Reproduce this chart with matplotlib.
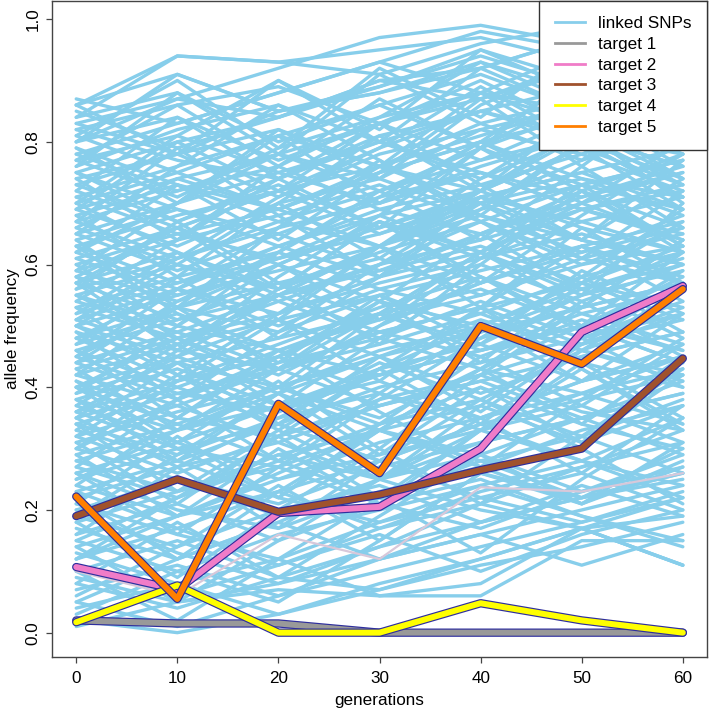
import numpy as np
import matplotlib.pyplot as plt

plt.rcParams['font.family'] = ['Liberation Sans', 'DejaVu Sans']

# sampled generations
generations = [0, 10, 20, 30, 40, 50, 60]

# linked SNP trajectories (one row per SNP)
snp_freqs = [
    [.87, .83, .88, .93, .98, .95, .91],
    [.86, .94, .93, .91, .96, .99, .96],
    [.86, .91, .85, .89, .94, .89, .86],
    [.86, .78, .90, .82, .95, .88, .97],
    [.85, .79, .84, .90, .87, .93, .95],
    [.84, .88, .80, .86, .79, .85, .91],
    [.84, .94, .93, .95, .97, .93, .90],
    [.83, .78, .85, .88, .93, .88, .84],
    [.83, .87, .92, .97, .99, .96, .93],
    [.82, .77, .74, .81, .85, .81, .78],
    [.82, .86, .89, .83, .88, .95, .90],
    [.81, .75, .81, .76, .72, .79, .83],
    [.81, .90, .79, .92, .84, .96, .88],
    [.80, .84, .77, .83, .87, .92, .95],
    [.80, .87, .84, .90, .92, .97, .96],
    [.80, .91, .85, .88, .92, .97, .94],
    [.79, .73, .69, .75, .80, .74, .71],
    [.79, .70, .82, .74, .86, .93, .82],
    [.78, .83, .88, .93, .88, .85, .90],
    [.78, .72, .78, .83, .77, .84, .88],
    [.77, .81, .75, .70, .76, .81, .76],
    [.77, .71, .79, .84, .88, .83, .79],
    [.77, .86, .76, .84, .93, .86, .78],
    [.76, .82, .86, .80, .85, .89, .93],
    [.76, .88, .78, .91, .83, .77, .88],
    [.75, .69, .65, .71, .75, .69, .64],
    [.75, .80, .84, .89, .95, .90, .86],
    [.75, .67, .73, .66, .72, .79, .73],
    [.74, .78, .71, .78, .82, .86, .79],
    [.74, .64, .76, .87, .79, .92, .84],
    [.73, .67, .74, .80, .75, .71, .76],
    [.73, .78, .82, .76, .83, .87, .82],
    [.72, .66, .72, .65, .71, .75, .79],
    [.72, .84, .74, .66, .79, .88, .80],
    [.71, .76, .81, .86, .91, .85, .90],
    [.71, .65, .61, .68, .62, .69, .72],
    [.70, .75, .69, .75, .80, .84, .89],
    [.70, .62, .55, .60, .67, .60, .66],
    [.70, .81, .90, .80, .92, .85, .76],
    [.69, .63, .70, .74, .68, .64, .60],
    [.69, .74, .78, .72, .79, .73, .69],
    [.69, .80, .72, .83, .90, .82, .74],
    [.68, .73, .67, .63, .69, .73, .77],
    [.68, .58, .70, .81, .72, .85, .92],
    [.67, .61, .67, .72, .77, .81, .76],
    [.67, .72, .76, .69, .65, .71, .75],
    [.67, .79, .68, .58, .71, .64, .77],
    [.66, .60, .56, .62, .67, .61, .57],
    [.66, .74, .69, .76, .70, .77, .82],
    [.65, .70, .75, .80, .74, .81, .85],
    [.65, .59, .65, .59, .65, .70, .64],
    [.65, .76, .86, .77, .68, .80, .71],
    [.64, .69, .63, .69, .73, .78, .72],
    [.64, .53, .66, .76, .88, .79, .69],
    [.63, .57, .63, .68, .72, .66, .62],
    [.63, .68, .72, .76, .81, .86, .81],
    [.63, .52, .44, .55, .47, .59, .52],
    [.62, .56, .52, .58, .62, .56, .61],
    [.62, .70, .78, .74, .82, .78, .84],
    [.62, .73, .64, .75, .87, .76, .88],
    [.61, .66, .60, .67, .61, .67, .71],
    [.61, .55, .61, .65, .70, .74, .68],
    [.60, .65, .69, .63, .70, .64, .60],
    [.60, .50, .62, .72, .64, .76, .66],
    [.59, .54, .60, .54, .50, .56, .60],
    [.59, .64, .68, .73, .67, .73, .77],
    [.59, .70, .81, .70, .80, .91, .82],
    [.58, .53, .49, .55, .59, .63, .57],
    [.58, .66, .72, .79, .85, .80, .74],
    [.58, .48, .40, .52, .62, .55, .70],
    [.57, .62, .56, .63, .68, .62, .68],
    [.57, .51, .57, .61, .55, .61, .65],
    [.57, .46, .58, .68, .79, .70, .80],
    [.57, .66, .56, .67, .58, .50, .62],
    [.56, .61, .66, .70, .75, .69, .65],
    [.56, .67, .57, .47, .60, .72, .63],
    [.55, .50, .46, .52, .56, .50, .46],
    [.55, .60, .54, .60, .64, .69, .73],
    [.55, .47, .55, .63, .71, .67, .62],
    [.54, .49, .55, .59, .63, .57, .63],
    [.54, .64, .74, .83, .73, .64, .74],
    [.53, .58, .62, .56, .52, .58, .62],
    [.53, .48, .54, .48, .54, .48, .54],
    [.53, .42, .52, .63, .74, .84, .74],
    [.52, .57, .61, .66, .71, .75, .69],
    [.52, .62, .51, .63, .53, .66, .57],
    [.51, .46, .43, .49, .53, .57, .51],
    [.51, .56, .50, .56, .60, .54, .60],
    [.51, .61, .71, .79, .89, .80, .86],
    [.50, .45, .51, .55, .49, .55, .59],
    [.50, .55, .59, .63, .57, .63, .67],
    [.50, .42, .36, .44, .38, .46, .52],
    [.50, .60, .70, .61, .72, .82, .70],
    [.49, .44, .40, .46, .50, .44, .40],
    [.49, .38, .49, .60, .70, .61, .72],
    [.48, .53, .57, .51, .57, .62, .66],
    [.48, .41, .47, .53, .58, .52, .47],
    [.48, .56, .63, .58, .65, .72, .78],
    [.47, .52, .46, .42, .48, .53, .57],
    [.47, .58, .48, .58, .69, .80, .71],
    [.46, .40, .46, .51, .55, .60, .63],
    [.46, .51, .55, .49, .45, .51, .46],
    [.46, .35, .45, .54, .44, .57, .67],
    [.45, .39, .36, .42, .46, .50, .44],
    [.45, .53, .60, .67, .62, .70, .75],
    [.45, .56, .66, .77, .67, .58, .69],
    [.44, .49, .43, .49, .53, .47, .53],
    [.44, .38, .44, .48, .43, .39, .45],
    [.44, .54, .62, .71, .80, .72, .66],
    [.43, .48, .52, .57, .61, .65, .60],
    [.43, .33, .43, .54, .65, .56, .48],
    [.42, .37, .43, .37, .42, .47, .51],
    [.42, .47, .51, .45, .51, .46, .41],
    [.42, .53, .43, .52, .62, .73, .63],
    [.41, .35, .32, .38, .42, .36, .33],
    [.41, .31, .41, .30, .42, .53, .64],
    [.40, .45, .39, .45, .49, .53, .57],
    [.40, .34, .40, .45, .39, .45, .49],
    [.40, .48, .42, .50, .57, .63, .58],
    [.40, .30, .22, .34, .45, .37, .47],
    [.39, .44, .48, .52, .46, .52, .56],
    [.39, .50, .60, .51, .62, .53, .64],
    [.38, .33, .39, .33, .29, .35, .39],
    [.38, .43, .37, .43, .47, .41, .47],
    [.38, .28, .39, .50, .61, .72, .62],
    [.37, .31, .37, .42, .46, .50, .44],
    [.37, .47, .37, .48, .58, .49, .59],
    [.36, .41, .45, .39, .35, .41, .45],
    [.36, .30, .27, .33, .37, .31, .37],
    [.36, .45, .55, .63, .72, .81, .73],
    [.35, .40, .34, .40, .44, .48, .52],
    [.35, .27, .35, .43, .50, .57, .53],
    [.35, .46, .56, .67, .57, .68, .78],
    [.34, .29, .35, .39, .33, .39, .34],
    [.34, .39, .43, .47, .52, .46, .42],
    [.34, .23, .33, .43, .53, .43, .33],
    [.33, .28, .34, .28, .34, .38, .42],
    [.33, .44, .34, .45, .36, .47, .57],
    [.32, .37, .31, .37, .41, .35, .41],
    [.32, .26, .32, .37, .41, .45, .49],
    [.32, .42, .33, .25, .37, .48, .40],
    [.31, .36, .40, .34, .40, .34, .30],
    [.31, .21, .32, .43, .34, .46, .56],
    [.30, .25, .21, .27, .31, .35, .29],
    [.30, .38, .45, .52, .47, .55, .62],
    [.30, .41, .51, .41, .53, .63, .54],
    [.29, .34, .28, .34, .38, .32, .38],
    [.29, .19, .30, .21, .33, .44, .35],
    [.28, .23, .29, .33, .27, .33, .37],
    [.28, .33, .37, .41, .35, .41, .45],
    [.27, .22, .28, .22, .28, .32, .26],
    [.27, .38, .28, .39, .50, .41, .52],
    [.26, .31, .25, .31, .35, .39, .43],
    [.26, .20, .17, .23, .27, .21, .27],
    [.26, .16, .27, .38, .48, .58, .49],
    [.25, .30, .34, .28, .34, .28, .24],
    [.25, .33, .40, .35, .43, .50, .58],
    [.24, .19, .25, .29, .33, .37, .31],
    [.24, .35, .46, .36, .27, .38, .48],
    [.23, .28, .22, .18, .24, .28, .22],
    [.23, .17, .23, .28, .22, .18, .23],
    [.22, .27, .31, .25, .31, .35, .39],
    [.22, .12, .23, .33, .43, .34, .45],
    [.21, .16, .12, .18, .22, .26, .20],
    [.21, .32, .22, .33, .43, .54, .45],
    [.20, .25, .19, .25, .29, .23, .29],
    [.20, .13, .08, .14, .21, .27, .33],
    [.19, .14, .20, .24, .18, .24, .19],
    [.19, .29, .39, .29, .40, .31, .42],
    [.18, .23, .27, .21, .17, .23, .27],
    [.18, .09, .20, .30, .21, .32, .43],
    [.17, .12, .18, .12, .18, .22, .26],
    [.16, .21, .15, .21, .25, .19, .15],
    [.16, .27, .17, .28, .38, .30, .21],
    [.15, .10, .16, .20, .24, .19, .14],
    [.15, .22, .29, .25, .33, .28, .35],
    [.14, .19, .23, .17, .23, .27, .31],
    [.14, .05, .15, .25, .35, .26, .37],
    [.13, .08, .12, .06, .06, .15, .15],
    [.12, .17, .11, .17, .21, .17, .11],
    [.12, .19, .26, .33, .28, .22, .30],
    [.12, .22, .32, .22, .33, .43, .34],
    [.11, .06, .11, .16, .10, .16, .20],
    [.10, .15, .09, .07, .12, .17, .22],
    [.10, .02, .12, .22, .13, .25, .35],
    [.09, .05, .07, .06, .08, .17, .11],
    [.08, .04, .09, .14, .18, .22, .26],
    [.08, .18, .09, .19, .29, .21, .31],
    [.07, .11, .06, .12, .16, .11, .16],
    [.06, .14, .24, .15, .26, .22, .25],
    [.05, .12, .18, .25, .20, .17, .11],
    [.05, .01, .06, .10, .14, .18, .22],
    [.04, .08, .03, .08, .12, .17, .19],
    [.03, .10, .05, .15, .26, .21, .28],
    [.02, .00, .03, .07, .11, .14, .18],
    [.01, .05, .08, .12, .16, .20, .24],
]

# faint background trajectory
faint_freqs = [0.10, 0.06, 0.16, 0.12, 0.237, 0.23, 0.26]

# selected targets
target_names = ['target 1', 'target 2', 'target 3', 'target 4', 'target 5']
target_colors = ['#999999', '#F07CC8', '#A0522D', '#FFFF00', '#FF7F00']
target1 = [0.020, 0.015, 0.015, 0.0, 0.0, 0.0, 0.0]
target2 = [0.107, 0.070, 0.195, 0.205, 0.300, 0.490, 0.565]
target3 = [0.190, 0.250, 0.197, 0.225, 0.265, 0.300, 0.447]
target4 = [0.017, 0.077, 0.0, 0.0, 0.048, 0.020, 0.0]
target5 = [0.222, 0.055, 0.373, 0.260, 0.500, 0.438, 0.560]
targets = [target1, target2, target3, target4, target5]

fig = plt.figure(figsize=(7.09, 7.11), dpi=100)
ax = fig.add_axes([0.0733, 0.076, 0.924, 0.9226])

snp_color = '#87CEEB'
for row in snp_freqs:
    ax.plot(generations, row, color=snp_color, lw=2.4,
            solid_joinstyle='round', solid_capstyle='round')

ax.plot(generations, faint_freqs, color='#D8C8DA', lw=1.6)

# targets: dark blue outline, coloured core
for vals, col in zip(targets, target_colors):
    ax.plot(generations, vals, color='#2E2E9E', lw=6.0,
            solid_joinstyle='round', solid_capstyle='round')
    ax.plot(generations, vals, color=col, lw=4.3,
            solid_joinstyle='round', solid_capstyle='round')

ax.set_xlim(-2.4, 62.4)
ax.set_ylim(-0.0396, 1.0296)
ax.set_xticks(generations)
ax.set_yticks([0.0, 0.2, 0.4, 0.6, 0.8, 1.0])
ax.set_yticklabels(['0.0', '0.2', '0.4', '0.6', '0.8', '1.0'],
                   rotation=90, va='center')
ax.tick_params(labelsize=12.3, length=4.3, width=0.9, color='#444444', pad=4)
ax.tick_params(axis='x', pad=6)
for sp in ax.spines.values():
    sp.set_color('#444444')
    sp.set_linewidth(1.0)

ax.set_xlabel('generations', fontsize=12.3, va='center')
ax.set_ylabel('allele frequency', fontsize=12.3, va='center')
ax.xaxis.set_label_coords(0.5, -0.066)
ax.yaxis.set_label_coords(-0.06, 0.5)

# legend
handles = [plt.Line2D([], [], color=snp_color, lw=2)]
handles += [plt.Line2D([], [], color=c, lw=2) for c in target_colors]
leg = ax.legend(handles, ['linked SNPs'] + target_names, loc='upper right',
                fontsize=12.3, frameon=True, fancybox=False,
                borderaxespad=0, borderpad=0.9, handlelength=1.75,
                handletextpad=0.8, labelspacing=0.33)
leg.get_frame().set_edgecolor('#333333')
leg.get_frame().set_linewidth(1.0)
leg.get_frame().set_alpha(1)

plt.savefig('out.png', dpi=100)
